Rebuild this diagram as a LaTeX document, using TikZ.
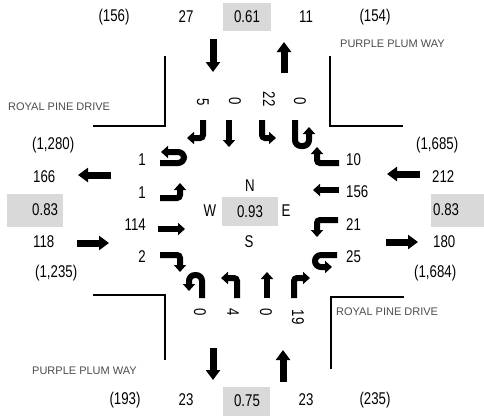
\documentclass[tikz,border=0pt]{standalone}
\usepackage{fontspec}
\setmainfont{Liberation Sans}
\newfontfamily\narrowfont[FakeStretch=0.78]{Liberation Sans}
\usetikzlibrary{arrows.meta}
\tikzset{
  num/.style={inner sep=0pt, font=\narrowfont\fontsize{17}{19}\selectfont},
  road/.style={inner sep=0pt, anchor=west, text=black!70, font=\fontsize{11}{13}\selectfont},
  vcbox/.style={fill=black!15},
  bigarr/.style={line width=7pt, -{Triangle[length=10pt,width=14pt]}},
  turnarr/.style={line width=6pt, rounded corners=3pt, -{Triangle[length=7pt,width=12pt]}},
  uarr/.style={turnarr, rounded corners=6pt},
  curb/.style={line width=1.5pt}
}
\begin{document}
\begin{tikzpicture}[x=1pt, y=-1pt]
    \useasboundingbox (0,0) rectangle (484,416);
    % curbs
    \draw[curb] (93,126) -- (165,126) -- (165,56);
    \draw[curb] (330,56) -- (330,126) -- (403,126);
    \draw[curb] (93,295) -- (165,295) -- (165,360);
    \draw[curb] (404,297) -- (331,297) -- (331,369);
    \node[road] (rdNE) at (340,44) {PURPLE PLUM WAY};
    \node[road] (rdNW) at (8,107) {ROYAL PINE DRIVE};
    \node[road] (rdSE) at (336,312) {ROYAL PINE DRIVE};
    \node[road] (rdSW) at (32,371) {PURPLE PLUM WAY};
    % v/c boxes
    \fill[vcbox] (223,3) rectangle (271,31);
    \fill[vcbox] (223,387) rectangle (270,416);
    \fill[vcbox] (7,194) rectangle (63,227);
    \fill[vcbox] (431,194) rectangle (484,227);
    \fill[vcbox] (222,197) rectangle (278,226);
    % north leg
    \node[num] (nPk) at (114,17) {(156)};
    \node[num] (nIn) at (186,17) {27};
    \node[num] (nVc) at (247,17) {0.61};
    \node[num] (nOut) at (306,17) {11};
    \node[num] (nPk2) at (375,17) {(154)};
    \draw[bigarr] (213,39) -- (213,72);
    \draw[bigarr] (284,73) -- (284,42);
    % south leg
    \node[num] (sPk) at (125,400) {(193)};
    \node[num] (sOut) at (186,400) {23};
    \node[num] (sVc) at (247,401) {0.75};
    \node[num] (sIn) at (306,400) {23};
    \node[num] (sPk2) at (375,400) {(235)};
    \draw[bigarr] (213,348) -- (213,380);
    \draw[bigarr] (283,382) -- (283,350);
    % west leg
    \node[num, anchor=west] (wPk) at (32,145) {(1,280)};
    \node[num, anchor=west] (wOut) at (33,177) {166};
    \node[num, anchor=west] (wVc) at (32,210) {0.83};
    \node[num, anchor=west] (wIn) at (33,242) {118};
    \node[num, anchor=west] (wPk2) at (35,273) {(1,235)};
    \draw[bigarr] (111,175) -- (78,175);
    \draw[bigarr] (77,243) -- (109,243);
    % east leg
    \node[num, anchor=west] (ePk) at (416,145) {(1,685)};
    \node[num, anchor=west] (eIn) at (432,177) {212};
    \node[num, anchor=west] (eVc) at (433,210) {0.83};
    \node[num, anchor=west] (eOut) at (433,242) {180};
    \node[num, anchor=west] (ePk2) at (414,273) {(1,684)};
    \draw[bigarr] (420,174) -- (387,174);
    \draw[bigarr] (386,242) -- (418,242);
    % intersection
    \node[num] (cN) at (250,186) {N};
    \node[num] (cW) at (210,211) {W};
    \node[num] (cVc) at (250,212) {0.93};
    \node[num] (cE) at (286,211) {E};
    \node[num] (cS) at (249,242) {S};
    % southbound moves
    \node[num, rotate=-90] (sbR) at (203,102) {5};
    \node[num, rotate=-90] (sbT) at (235,101) {0};
    \node[num, rotate=-90] (sbL) at (269,99) {22};
    \node[num, rotate=-90] (sbU) at (300,101) {0};
    \draw[turnarr] (203,120) -- (203,138) -- (187,138);
    \draw[turnarr] (229,120) -- (229,147);
    \draw[turnarr] (262,120) -- (262,138) -- (276,138);
    \draw[uarr] (295,120) -- (295,146) -- (309,146) -- (309,127);
    % westbound moves
    \node[num, anchor=west] (wbR) at (346,160) {10};
    \node[num, anchor=west] (wbT) at (346,192) {156};
    \node[num, anchor=west] (wbL) at (346,225) {21};
    \node[num, anchor=west] (wbU) at (346,257) {25};
    \draw[turnarr] (339,163) -- (317,163) -- (317,147);
    \draw[turnarr] (339,190) -- (313,190);
    \draw[turnarr] (338,220) -- (317,220) -- (317,237);
    \draw[uarr] (337,255) -- (315,255) -- (315,267) -- (332,267);
    % eastbound moves
    \node[num, anchor=east] (ebU) at (146,160) {1};
    \node[num, anchor=east] (ebL) at (146,193) {1};
    \node[num, anchor=east] (ebT) at (146,225) {114};
    \node[num, anchor=east] (ebR) at (146,257) {2};
    \draw[uarr] (160,163) -- (184,163) -- (184,152) -- (161,152);
    \draw[turnarr] (160,198) -- (180,198) -- (180,183);
    \draw[turnarr] (158,229) -- (185,229);
    \draw[turnarr] (160,255) -- (180,255) -- (180,272);
    % northbound moves
    \node[num, rotate=-90] (nbU) at (200,312) {0};
    \node[num, rotate=-90] (nbL) at (233,312) {4};
    \node[num, rotate=-90] (nbT) at (266,312) {0};
    \node[num, rotate=-90] (nbR) at (298,317) {19};
    \draw[uarr] (202,298) -- (202,275) -- (189,275) -- (189,291);
    \draw[turnarr] (237,298) -- (237,278) -- (221,278);
    \draw[turnarr] (267,298) -- (267,272);
    \draw[turnarr] (294,298) -- (294,278) -- (310,278);
\end{tikzpicture}
\end{document}
